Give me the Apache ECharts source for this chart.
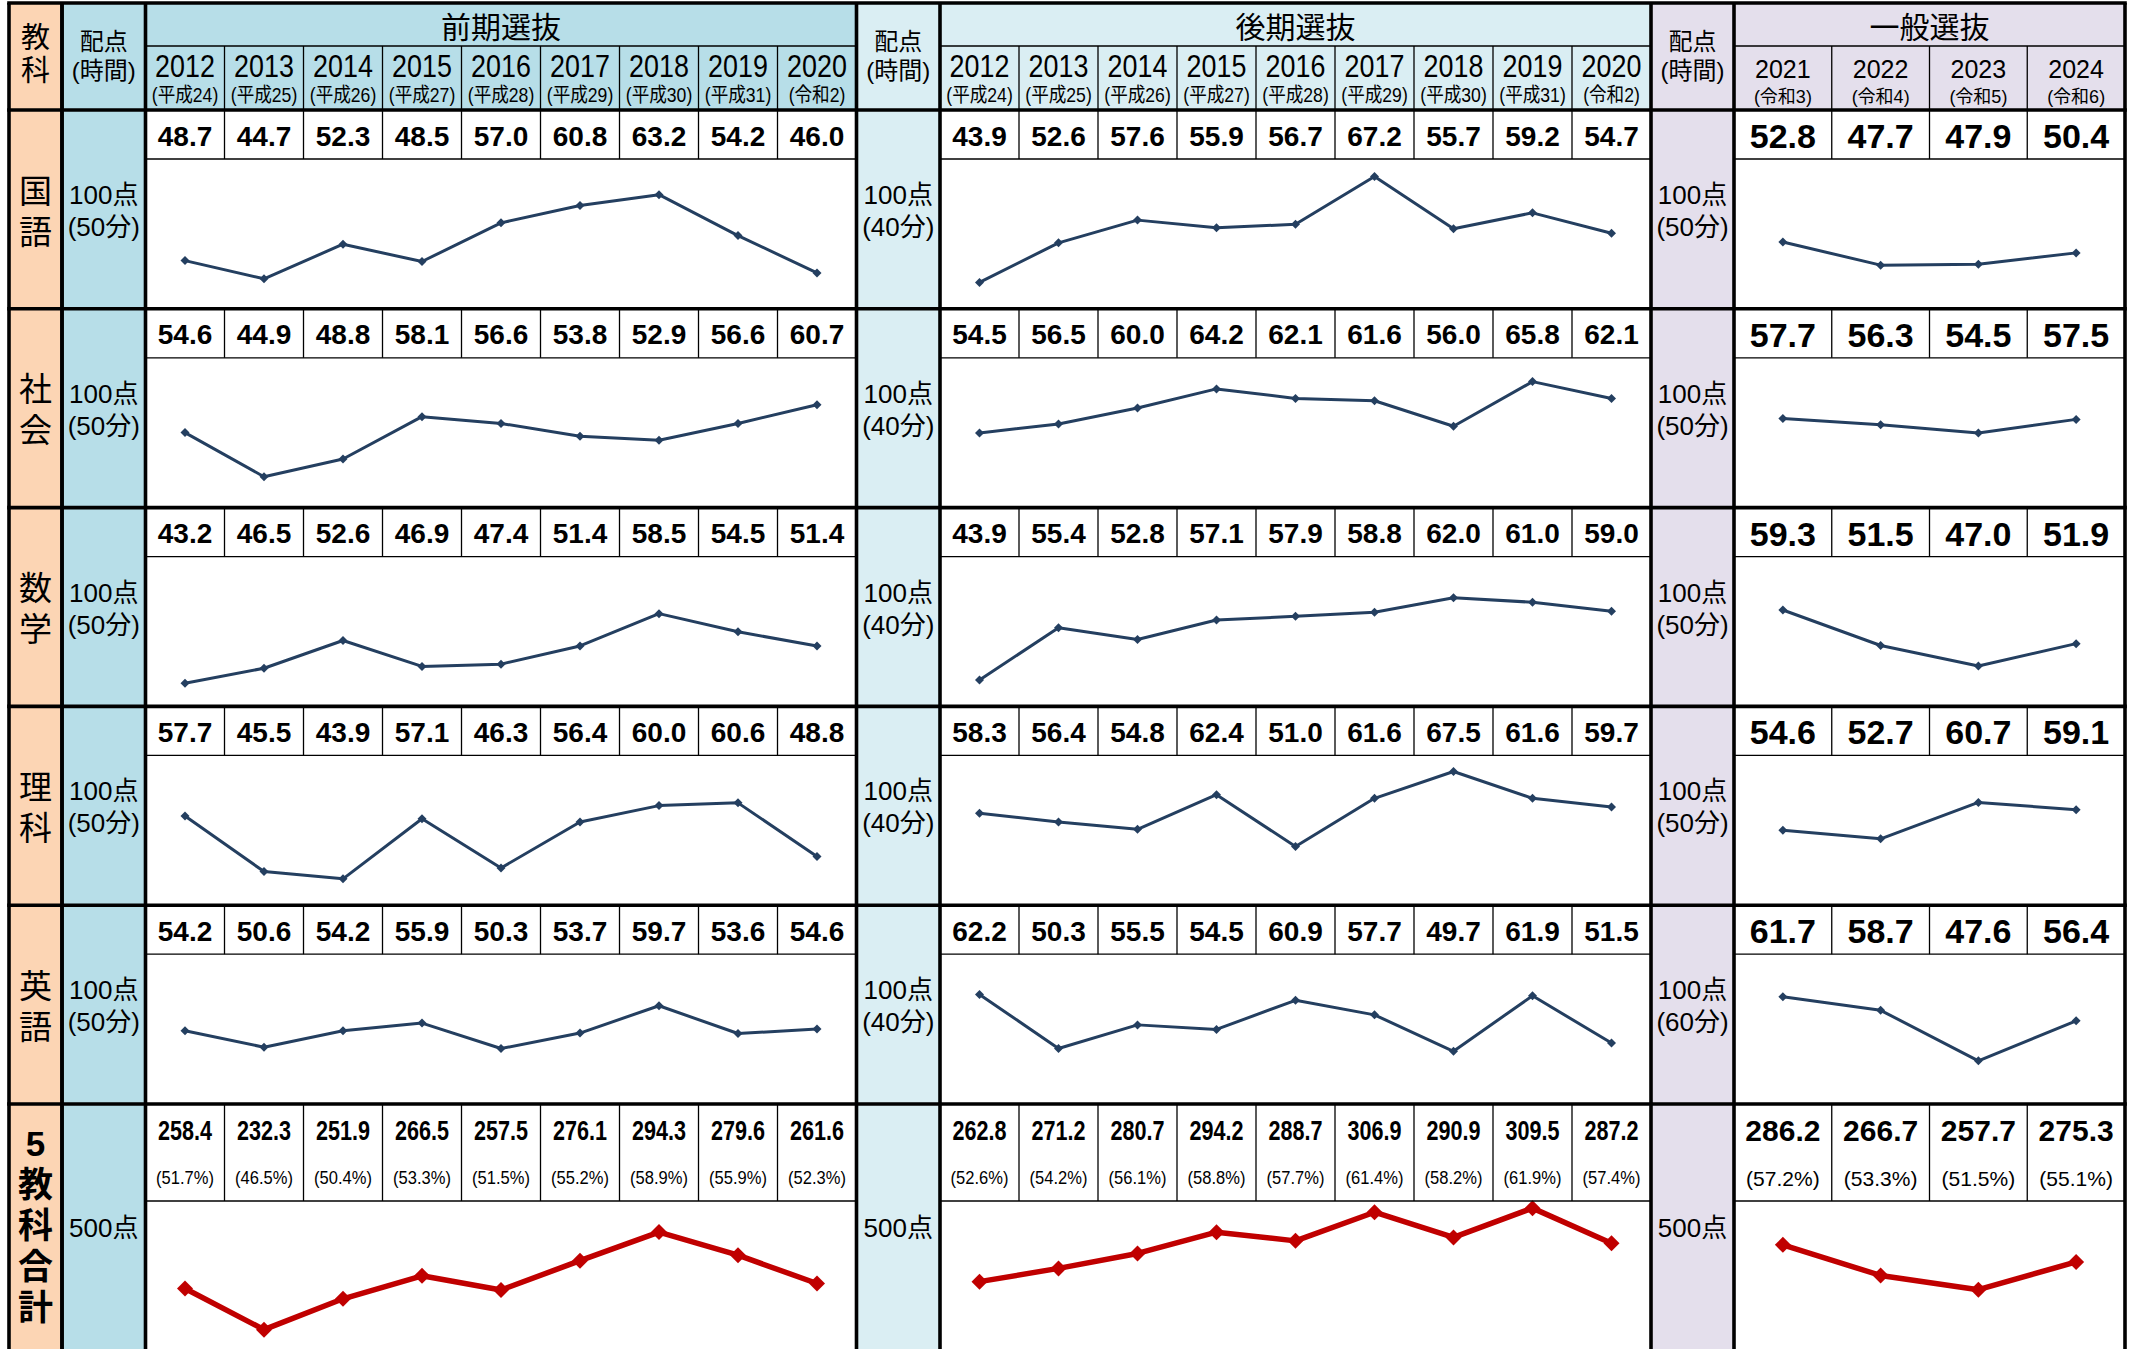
<!DOCTYPE html>
<html><head><meta charset="utf-8">
<script src="https://cdn.jsdelivr.net/npm/echarts/dist/echarts.min.js"></script>
<style>html,body{margin:0;padding:0;background:#fff}#c{width:2140px;height:1349px}</style>
</head><body><div id="c"></div><script>
// ---------------- data ----------------
const subjects = ['国語', '社会', '数学', '理科', '英語'];
const totalLabel = ['5', '教', '科', '合', '計'];
const groupTitles = ['前期選抜', '後期選抜', '一般選抜'];
const yearsZenki = ['2012','2013','2014','2015','2016','2017','2018','2019','2020'];
const eraZenki = ['(平成24)','(平成25)','(平成26)','(平成27)','(平成28)','(平成29)','(平成30)','(平成31)','(令和2)'];
const yearsKoki = ['2012','2013','2014','2015','2016','2017','2018','2019','2020'];
const eraKoki = ['(平成24)','(平成25)','(平成26)','(平成27)','(平成28)','(平成29)','(平成30)','(平成31)','(令和2)'];
const yearsIppan = ['2021','2022','2023','2024'];
const eraIppan = ['(令和3)','(令和4)','(令和5)','(令和6)'];

const zenkiKokugo = [48.7, 44.7, 52.3, 48.5, 57.0, 60.8, 63.2, 54.2, 46.0];
const zenkiShakai = [54.6, 44.9, 48.8, 58.1, 56.6, 53.8, 52.9, 56.6, 60.7];
const zenkiSugaku = [43.2, 46.5, 52.6, 46.9, 47.4, 51.4, 58.5, 54.5, 51.4];
const zenkiRika   = [57.7, 45.5, 43.9, 57.1, 46.3, 56.4, 60.0, 60.6, 48.8];
const zenkiEigo   = [54.2, 50.6, 54.2, 55.9, 50.3, 53.7, 59.7, 53.6, 54.6];
const zenkiTotal  = [258.4, 232.3, 251.9, 266.5, 257.5, 276.1, 294.3, 279.6, 261.6];
const zenkiPct    = [51.7, 46.5, 50.4, 53.3, 51.5, 55.2, 58.9, 55.9, 52.3];

const kokiKokugo = [43.9, 52.6, 57.6, 55.9, 56.7, 67.2, 55.7, 59.2, 54.7];
const kokiShakai = [54.5, 56.5, 60.0, 64.2, 62.1, 61.6, 56.0, 65.8, 62.1];
const kokiSugaku = [43.9, 55.4, 52.8, 57.1, 57.9, 58.8, 62.0, 61.0, 59.0];
const kokiRika   = [58.3, 56.4, 54.8, 62.4, 51.0, 61.6, 67.5, 61.6, 59.7];
const kokiEigo   = [62.2, 50.3, 55.5, 54.5, 60.9, 57.7, 49.7, 61.9, 51.5];
const kokiTotal  = [262.8, 271.2, 280.7, 294.2, 288.7, 306.9, 290.9, 309.5, 287.2];
const kokiPct    = [52.6, 54.2, 56.1, 58.8, 57.7, 61.4, 58.2, 61.9, 57.4];

const ippanKokugo = [52.8, 47.7, 47.9, 50.4];
const ippanShakai = [57.7, 56.3, 54.5, 57.5];
const ippanSugaku = [59.3, 51.5, 47.0, 51.9];
const ippanRika   = [54.6, 52.7, 60.7, 59.1];
const ippanEigo   = [61.7, 58.7, 47.6, 56.4];
const ippanTotal  = [286.2, 266.7, 257.7, 275.3];
const ippanPct    = [57.2, 53.3, 51.5, 55.1];

const pointsZenki = ['100点','100点','100点','100点','100点'];
const timeZenki   = ['(50分)','(50分)','(50分)','(50分)','(50分)'];
const pointsKoki  = ['100点','100点','100点','100点','100点'];
const timeKoki    = ['(40分)','(40分)','(40分)','(40分)','(40分)'];
const pointsIppan = ['100点','100点','100点','100点','100点'];
const timeIppan   = ['(50分)','(50分)','(50分)','(50分)','(60分)'];
const totalPoints = '500点';

// ---------------- layout ----------------
const SANS = "'Liberation Sans',Arial,'Noto Sans CJK JP',sans-serif";
const JP = "'Noto Sans CJK JP','Noto Sans CJK SC',sans-serif";
const Y_TOP = 3, Y_HL = 46, Y_HB = 110, ROWH = 198.8, Y_TOT = 1104, Y_END = 1349;
const X_L = 9, X_KYO = 62, X_R = 2125;
const sections = [
  { hx: 62, x: 145.5, cw: 79, years: yearsZenki, eras: eraZenki, bg: '#B7DEE8', narrow: true,
    data: [zenkiKokugo, zenkiShakai, zenkiSugaku, zenkiRika, zenkiEigo], total: zenkiTotal, pct: zenkiPct,
    pts: pointsZenki, time: timeZenki, title: groupTitles[0] },
  { hx: 856.5, x: 940, cw: 79, years: yearsKoki, eras: eraKoki, bg: '#DAEEF3', narrow: true,
    data: [kokiKokugo, kokiShakai, kokiSugaku, kokiRika, kokiEigo], total: kokiTotal, pct: kokiPct,
    pts: pointsKoki, time: timeKoki, title: groupTitles[1] },
  { hx: 1651, x: 1734, cw: 97.75, years: yearsIppan, eras: eraIppan, bg: '#E4DFEC', narrow: false,
    data: [ippanKokugo, ippanShakai, ippanSugaku, ippanRika, ippanEigo], total: ippanTotal, pct: ippanPct,
    pts: pointsIppan, time: timeIppan, title: groupTitles[2] }
];

const G = [];
function rect(x, y, w, h, fill) { G.push({ type: 'rect', silent: true, z: 0, shape: { x, y, width: w, height: h }, style: { fill } }); }
function line(x1, y1, x2, y2, w) { G.push({ type: 'line', silent: true, z: 60, shape: { x1, y1, x2, y2 }, style: { stroke: '#000', lineWidth: w } }); }
function text(x, y, s, font, sx, lh) {
  const style = { text: s, font, fill: '#000', align: 'center', verticalAlign: 'middle', textAlign: 'center', textVerticalAlign: 'middle' };
  if (lh) style.lineHeight = lh;
  G.push({ type: 'text', silent: true, z: 70, x, y, scaleX: sx || 1, style });
}
const rowTop = i => Y_HB + i * ROWH;

// backgrounds
rect(X_L, Y_TOP, X_KYO - X_L, Y_END - Y_TOP, '#FCD5B4');
sections.forEach(s => {
  rect(s.hx, Y_TOP, s.x - s.hx, Y_END - Y_TOP, s.bg);
  rect(s.x, Y_TOP, s.cw * s.years.length, Y_HB - Y_TOP, s.bg);
});

// header texts
text((X_L + X_KYO) / 2, 54, '教\n科', '29px ' + SANS, 1, 33);
sections.forEach(s => {
  const n = s.years.length, w = s.cw * n, cx = (s.hx + s.x) / 2;
  text(cx, 56, '配点\n(時間)', '24px ' + SANS, 1, 29);
  text(s.x + w / 2, 25, s.title, '30px ' + JP);
  for (let j = 0; j < n; j++) {
    const xc = s.x + s.cw * (j + 0.5);
    if (s.narrow) {
      text(xc, 66, s.years[j], '32px ' + SANS, 0.84);
      text(xc, 95, s.eras[j], '20px ' + SANS, 0.88);
    } else {
      text(xc, 69, s.years[j], '25px ' + SANS);
      text(xc, 97, s.eras[j], '18px ' + SANS);
    }
  }
});

// subject rows
subjects.forEach((sub, i) => {
  const t = rowTop(i);
  text((X_L + X_KYO) / 2, t + 101.5, sub.split('').join('\n'), '33px ' + SANS, 1, 41);
  sections.forEach(s => {
    const cx = (s.hx + s.x) / 2;
    text(cx, t + 101, s.pts[i] + '\n' + s.time[i], '26px ' + SANS, 1, 32);
    rect(s.x, t, s.cw * s.years.length, ROWH, '#fff');
    s.data[i].forEach((v, j) => {
      text(s.x + s.cw * (j + 0.5), t + 26, v.toFixed(1), 'bold ' + (s.narrow ? 28 : 34) + 'px ' + SANS);
    });
  });
});

// total row
text((X_L + X_KYO) / 2, 1225, totalLabel.join('\n'), 'bold 35px ' + SANS, 1, 41);
sections.forEach(s => {
  text((s.hx + s.x) / 2, 1228, totalPoints, '26px ' + SANS);
  rect(s.x, Y_TOT, s.cw * s.years.length, Y_END - Y_TOT, '#fff');
  s.total.forEach((v, j) => {
    const xc = s.x + s.cw * (j + 0.5);
    if (s.narrow) {
      text(xc, 1131, v.toFixed(1), 'bold 27px ' + SANS, 0.8);
      text(xc, 1178, '(' + s.pct[j].toFixed(1) + '%)', '19px ' + SANS, 0.87);
    } else {
      text(xc, 1130, v.toFixed(1), 'bold 30px ' + SANS);
      text(xc, 1178, '(' + s.pct[j].toFixed(1) + '%)', '21px ' + SANS);
    }
  });
});

// thin lines
sections.forEach(s => {
  const n = s.years.length, w = s.cw * n;
  line(s.x, Y_HL, s.x + w, Y_HL, 1.3);
  for (let j = 1; j < n; j++) {
    const x = s.x + s.cw * j;
    line(x, Y_HL, x, Y_HB, 1.3);
    for (let i = 0; i < 5; i++) line(x, rowTop(i), x, rowTop(i) + 49, 1.3);
    line(x, Y_TOT, x, Y_TOT + 97, 1.3);
  }
  for (let i = 0; i < 5; i++) line(s.x, rowTop(i) + 49, s.x + w, rowTop(i) + 49, 1.3);
  line(s.x, Y_TOT + 97, s.x + w, Y_TOT + 97, 1.3);
});
// thick lines
[X_L, X_KYO].concat(...sections.map(s => [s.hx, s.x])).concat([X_R]).forEach(x => line(x, Y_TOP, x, Y_END, 3.6));
[Y_TOP, Y_HB, rowTop(1), rowTop(2), rowTop(3), rowTop(4), Y_TOT].forEach(y => line(X_L - 1.8, y, X_R + 1.8, y, 3.6));

// ---------------- charts ----------------
const grid = [], xAxis = [], yAxis = [], series = [];
sections.forEach(s => {
  const w = s.cw * s.years.length;
  const rows = s.data.map((d, i) => ({ d, top: rowTop(i) + 53.7, h: 136.5, min: 40, max: 70, total: false }))
    .concat([{ d: s.total, top: 1191.6, h: 166, min: 220, max: 320, total: true }]);
  rows.forEach(r => {
    const k = grid.length;
    grid.push({ left: s.x, width: w, top: r.top, height: r.h, containLabel: false, show: false });
    xAxis.push({ type: 'category', gridIndex: k, data: s.years, boundaryGap: true, show: false });
    yAxis.push({ type: 'value', gridIndex: k, min: r.min, max: r.max, show: false, splitLine: { show: false } });
    series.push({
      type: 'line', xAxisIndex: k, yAxisIndex: k, data: r.d, z: 40, silent: true, animation: false,
      symbol: 'diamond', symbolSize: r.total ? 16 : 9, showSymbol: true,
      lineStyle: { color: r.total ? '#C00000' : '#243F60', width: r.total ? 5.5 : 3 },
      itemStyle: { color: r.total ? '#C00000' : '#243F60' }
    });
  });
});

const chart = echarts.init(document.getElementById('c'), null, { renderer: 'svg', width: 2140, height: 1349 });
chart.setOption({ animation: false, backgroundColor: '#fff', graphic: { elements: G }, grid, xAxis, yAxis, series });
</script></body></html>
